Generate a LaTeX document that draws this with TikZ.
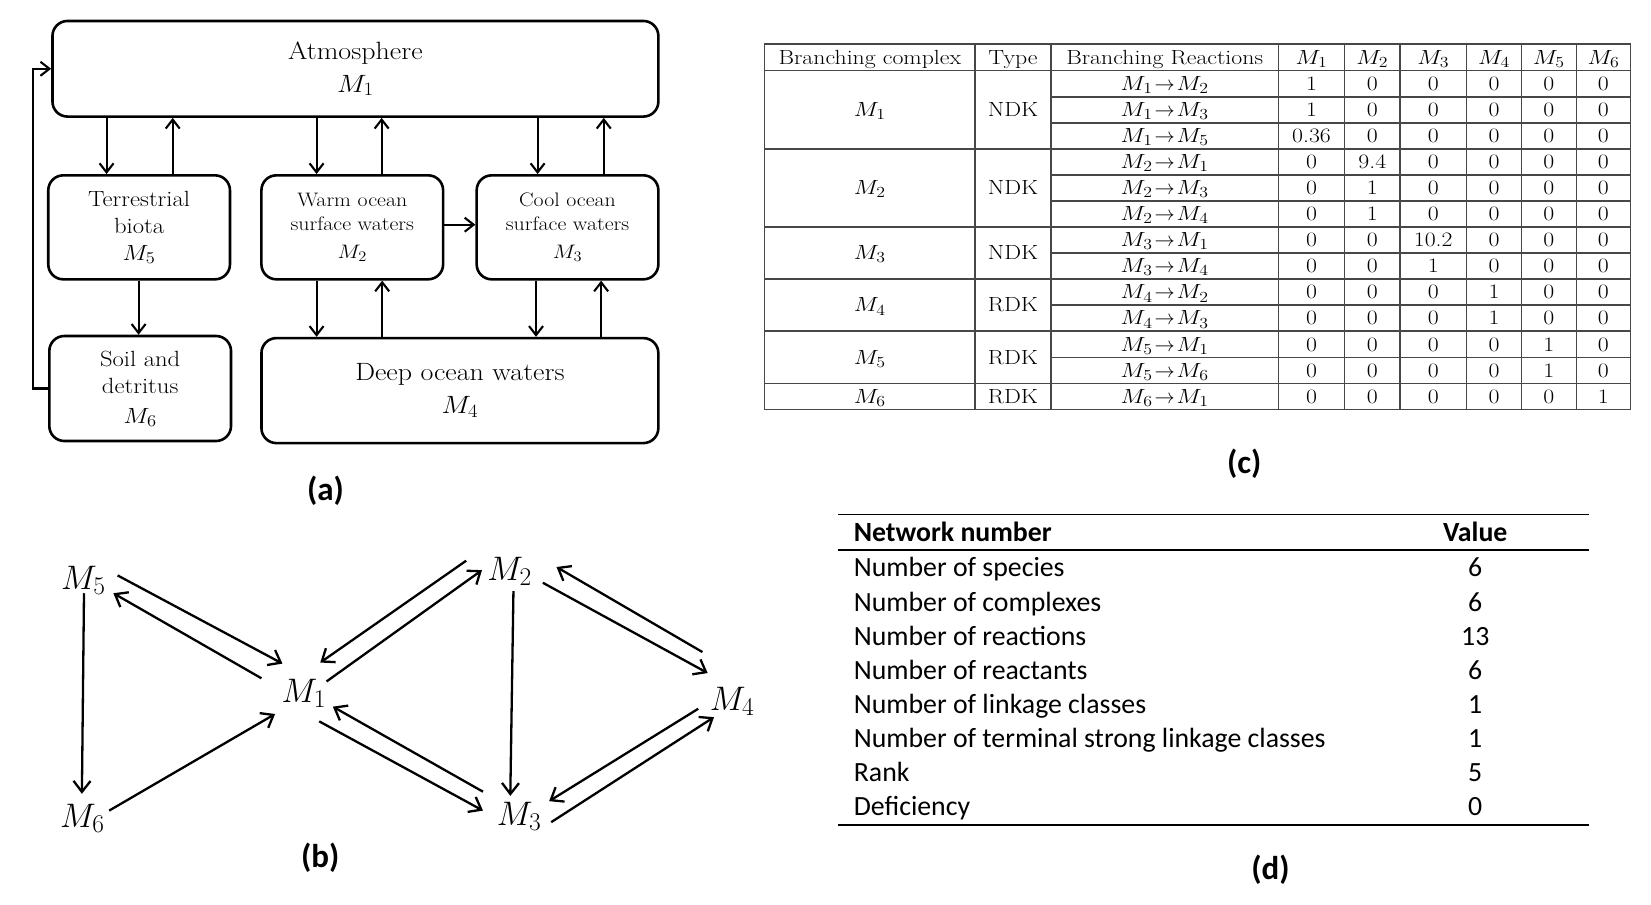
\RequirePackage{fix-cm}
\documentclass[tikz,border=0pt]{standalone}
\usepackage{graphicx}
\usepackage{fontspec}
\newfontfamily\calib{Carlito}
\usetikzlibrary{arrows.meta,calc}
\makeatletter
\def\defaultscriptratio{.75}
\makeatother
\newcommand{\stra}[1]{\scalebox{1.12}[1]{#1}}
\newcommand{\strc}[1]{\scalebox{1.16}[1]{#1}}
\newcommand{\rto}{\mkern1.5mu{\scalebox{0.85}[1]{$\to$}}\mkern1.5mu}
\newcommand{\trow}[8]{%
  \node[cell] (r#1) at (1109.2,{67.4+24.8*#1-5.9}) {\strc{$#2$}};
  \node[cell] (r#1c1) at (1249.1,{67.4+24.8*#1-5.9}) {\strc{#3}};
  \node[cell] (r#1c2) at (1307.0,{67.4+24.8*#1-5.9}) {\strc{#4}};
  \node[cell] (r#1c3) at (1365.0,{67.4+24.8*#1-5.9}) {\strc{#5}};
  \node[cell] (r#1c4) at (1422.9,{67.4+24.8*#1-5.9}) {\strc{#6}};
  \node[cell] (r#1c5) at (1475.1,{67.4+24.8*#1-5.9}) {\strc{#7}};
  \node[cell] (r#1c6) at (1527.1,{67.4+24.8*#1-5.9}) {\strc{#8}};
}
\begin{document}
\begin{tikzpicture}[x=1.05pt,y=-1.05pt,
  box/.style={draw,line width=2.6pt,rounded corners=15pt,align=center,inner sep=0pt},
  arra/.style={line width=2.1pt,-{Straight Barb[length=9pt,width=14pt]}},
  arrb/.style={line width=2.3pt,-{Straight Barb[length=11pt,width=17pt]}},
  mlab/.style={font=\fontsize{34}{40}\selectfont,inner sep=0pt,anchor=base west},
  lbl/.style={font=\calib\bfseries\fontsize{33}{40}\selectfont,inner sep=0pt},
  tline/.style={line width=1.4pt,black!72},
  cell/.style={font=\fontsize{20.5}{24}\selectfont,inner sep=0pt,anchor=base},
  drow/.style={font=\calib\fontsize{27.8}{33}\selectfont,inner sep=0pt},
  rulel/.style={line width=1.8pt}]
\fill[white] (0,0) rectangle (1572.4,861.9);
\useasboundingbox (0,0) rectangle (1572.4,861.9);

% ---------------- panel (a)
\node[box,minimum width=605.9pt,minimum height=95.6pt,font=\fontsize{25}{33}\selectfont] (atm) at (338.5,65.5) {\stra{Atmosphere}\\\stra{$M_1$}};
\node[box,minimum width=181.7pt,minimum height=104pt,font=\fontsize{22}{27.3}\selectfont] (terr) at (132.5,216.5) {\stra{Terrestrial}\\\stra{biota}\\\stra{$M_5$}};
\node[box,minimum width=181.7pt,minimum height=104pt,font=\fontsize{19.5}{24}\selectfont] (warm) at (335.5,216.5) {\stra{Warm ocean}\\\stra{surface waters}\\[4pt]\stra{$M_2$}};
\node[box,minimum width=181.7pt,minimum height=104pt,font=\fontsize{19.5}{24}\selectfont] (cool) at (540.5,216.5) {\stra{Cool ocean}\\\stra{surface waters}\\[4pt]\stra{$M_3$}};
\node[box,minimum width=181.7pt,minimum height=105pt,font=\fontsize{22}{27}\selectfont] (soil) at (133.5,370) {\stra{Soil and}\\\stra{detritus}\\[3pt]\stra{$M_6$}};
\node[box,minimum width=396.9pt,minimum height=105pt,font=\fontsize{25}{33}\selectfont] (deep) at (438,372) {\stra{Deep ocean waters}\\\stra{$M_4$}};

\draw[arra] (atm.south -| 101.5,0) -- (terr.north -| 101.5,0);
\draw[arra] (terr.north -| 164.5,0) -- (atm.south -| 164.5,0);
\draw[arra] (atm.south -| 301.5,0) -- (warm.north -| 301.5,0);
\draw[arra] (warm.north -| 363.5,0) -- (atm.south -| 363.5,0);
\draw[arra] (atm.south -| 512,0) -- (cool.north -| 512,0);
\draw[arra] (cool.north -| 575,0) -- (atm.south -| 575,0);
\draw[arra] (terr.south -| 132,0) -- (soil.north -| 132,0);
\draw[arra] (warm.east |- 0,214) -- (cool.west |- 0,214);
\draw[arra] (warm.south -| 301.5,0) -- (deep.north -| 301.5,0);
\draw[arra] (deep.north -| 364,0) -- (warm.south -| 364,0);
\draw[arra] (cool.south -| 510.5,0) -- (deep.north -| 510.5,0);
\draw[arra] (deep.north -| 572.5,0) -- (cool.south -| 572.5,0);
\draw[arra] (soil.west) -- ++(-14,0) |- (atm.west);

\node[lbl] (la) at (310,467) {(a)};

% ---------------- panel (b)
\node[mlab] (b5) at (58,561) {$M_5$};
\node[mlab] (b2) at (464,553) {$M_2$};
\node[mlab] (b1) at (268,669) {$M_1$};
\node[mlab] (b4) at (676,677) {$M_4$};
\node[mlab] (b6) at (57,788) {$M_6$};
\node[mlab] (b3) at (473,786) {$M_3$};

\draw[arrb] ([shift={(54,-13)}]b5.base west) -- ([shift={(1,-37)}]b1.base west);
\draw[arrb] ([shift={(-19,-23)}]b1.base west) -- ([shift={(50,4)}]b5.base west);
\draw[arrb] ([shift={(43,-20)}]b1.base west) -- ([shift={(-5,-10)}]b2.base west);
\draw[arrb] ([shift={(-20,-19)}]b2.base west) -- ([shift={(37,-38)}]b1.base west);
\draw[arrb] ([shift={(22,4)}]b5.base west) -- ([shift={(21,-32)}]b6.base west);
\draw[arrb] ([shift={(47,-16)}]b6.base west) -- ([shift={(-6,11)}]b1.base west);
\draw[arrb] ([shift={(25,10)}]b2.base west) -- ([shift={(13,-28)}]b3.base west);
\draw[arrb] ([shift={(36,18)}]b1.base west) -- ([shift={(-13,-14)}]b3.base west);
\draw[arrb] ([shift={(-13,-32)}]b3.base west) -- ([shift={(49,4)}]b1.base west);
\draw[arrb] ([shift={(53,2)}]b2.base west) -- ([shift={(-2,-36)}]b4.base west);
\draw[arrb] ([shift={(-7,-56)}]b4.base west) -- ([shift={(66,-13)}]b2.base west);
\draw[arrb] ([shift={(-11,-2)}]b4.base west) -- ([shift={(50,-23)}]b3.base west);
\draw[arrb] ([shift={(52,-3)}]b3.base west) -- ([shift={(4,6)}]b4.base west);

\node[lbl] (lb) at (305,817) {(b)};

% ---------------- panel (c)
\draw[tline] (728,42) rectangle (1553,389.8);
\foreach \x in {928.7,1000.8,1217.6,1280.6,1333.3,1396.8,1449,1501.2}
  \draw[tline] (\x,42) -- (\x,389.8);
\foreach \k in {0,3,6,8,10,12}
  \draw[tline] (728,{67.4+24.8*\k}) -- (1553,{67.4+24.8*\k});
\foreach \k in {1,2,4,5,7,9,11}
  \draw[tline] (1000.8,{67.4+24.8*\k}) -- (1553,{67.4+24.8*\k});

\node[cell] (h1) at (828.4,61.2) {\strc{Branching complex}};
\node[cell] (h2) at (964.8,61.2) {\strc{Type}};
\node[cell] (h3) at (1109.2,61.2) {\strc{Branching Reactions}};
\node[cell] (h4) at (1249.1,61.2) {\strc{$M_1$}};
\node[cell] (h5) at (1307.0,61.2) {\strc{$M_2$}};
\node[cell] (h6) at (1365.0,61.2) {\strc{$M_3$}};
\node[cell] (h7) at (1422.9,61.2) {\strc{$M_4$}};
\node[cell] (h8) at (1475.1,61.2) {\strc{$M_5$}};
\node[cell] (h9) at (1527.1,61.2) {\strc{$M_6$}};

\node[cell] (g1) at (828.4,111.1) {\strc{$M_1$}};
\node[cell] (g2) at (828.4,185.5) {\strc{$M_2$}};
\node[cell] (g3) at (828.4,247.5) {\strc{$M_3$}};
\node[cell] (g4) at (828.4,297.1) {\strc{$M_4$}};
\node[cell] (g5) at (828.4,346.7) {\strc{$M_5$}};
\node[cell] (g6) at (828.4,383.9) {\strc{$M_6$}};
\node[cell] (t1) at (964.8,111.1) {\strc{NDK}};
\node[cell] (t2) at (964.8,185.5) {\strc{NDK}};
\node[cell] (t3) at (964.8,247.5) {\strc{NDK}};
\node[cell] (t4) at (964.8,297.1) {\strc{RDK}};
\node[cell] (t5) at (964.8,346.7) {\strc{RDK}};
\node[cell] (t6) at (964.8,383.9) {\strc{RDK}};

\trow{1}{M_1\rto M_2}{1}{0}{0}{0}{0}{0}
\trow{2}{M_1\rto M_3}{1}{0}{0}{0}{0}{0}
\trow{3}{M_1\rto M_5}{0.36}{0}{0}{0}{0}{0}
\trow{4}{M_2\rto M_1}{0}{9.4}{0}{0}{0}{0}
\trow{5}{M_2\rto M_3}{0}{1}{0}{0}{0}{0}
\trow{6}{M_2\rto M_4}{0}{1}{0}{0}{0}{0}
\trow{7}{M_3\rto M_1}{0}{0}{10.2}{0}{0}{0}
\trow{8}{M_3\rto M_4}{0}{0}{1}{0}{0}{0}
\trow{9}{M_4\rto M_2}{0}{0}{0}{1}{0}{0}
\trow{10}{M_4\rto M_3}{0}{0}{0}{1}{0}{0}
\trow{11}{M_5\rto M_1}{0}{0}{0}{0}{1}{0}
\trow{12}{M_5\rto M_6}{0}{0}{0}{0}{1}{0}
\trow{13}{M_6\rto M_1}{0}{0}{0}{0}{0}{1}

\node[lbl] (lc) at (1185,442) {(c)};

% ---------------- panel (d)
\draw[rulel] (798,490) -- (1513,490);
\draw[rulel] (798,523.8) -- (1513,523.8);
\draw[rulel] (798,785.5) -- (1513,785.5);
\node[drow,font=\calib\bfseries\fontsize{27.8}{33}\selectfont,anchor=base west] (dh1) at (813,516) {Network number};
\node[drow,font=\calib\bfseries\fontsize{27.8}{33}\selectfont,anchor=base] (dh2) at (1405,516) {Value};
\foreach [count=\i] \t/\v in {Number of species/6,Number of complexes/6,Number of reactions/13,Number of reactants/6,Number of linkage classes/1,Number of terminal strong linkage classes/1,Rank/5,Deficiency/0}{
  \node[drow,anchor=base west] (dl\i) at (813,{549.5+32.45*(\i-1)}) {\t};
  \node[drow,anchor=base] (dv\i) at (1405,{549.5+32.45*(\i-1)}) {\v};
}
\node[lbl] (ld) at (1210,828) {(d)};
\end{tikzpicture}
\end{document}
